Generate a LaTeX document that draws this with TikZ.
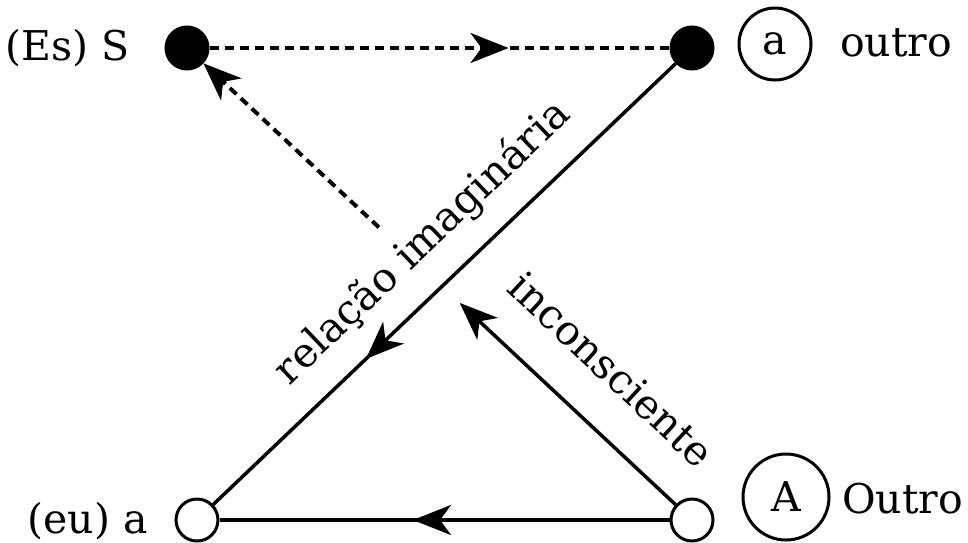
\documentclass[tikz,border=0pt]{standalone}
\usepackage{fontspec}
\setmainfont{DejaVu Serif}
\usetikzlibrary{positioning,arrows.meta,decorations.markings,calc}

\tikzset{
  dot/.style={circle, draw, line width=3pt, minimum size=42pt, inner sep=0pt},
  fulldot/.style={dot, fill=black},
  opendot/.style={dot, fill=white},
  ring/.style={circle, draw, line width=3pt, inner sep=0pt, font=\fontsize{41}{45}\selectfont},
  lbl/.style={inner sep=0pt, font=\fontsize{41}{45}\selectfont},
  link/.style={line width=3.5pt},
  dashlink/.style={line width=4pt, dash pattern=on 9pt off 6pt},
  tip/.style={-{Stealth[length=38pt,width=30pt,inset=11pt]}},
  midtip/.style={postaction={decorate}, decoration={markings,
      mark=at position #1 with {\arrow{Stealth[length=38pt,width=30pt,inset=11pt]}}}},
}

\begin{document}
\begin{tikzpicture}[x=1pt, y=-1pt]
    \useasboundingbox (0,0) rectangle (968,542);

    \node [fulldot] (S) at (187,48) {};
    \node [fulldot] (a) at (692,48) {};
    \node [opendot] (eu) at (197,520) {};
    \node [opendot] (A) at (692,520) {};

    \node [lbl, anchor=base east] (Slbl) at (130,60) {(Es) S};
    \node [lbl, anchor=base east] (eulbl) at (148,533) {(eu) a};
    \node [ring, minimum size=72pt] (aring) at (775,44) {a};
    \node [lbl, anchor=base west] (outro) at (840,56) {outro};
    \node [ring, minimum size=86pt] (Aring) at (786,497) {A};
    \node [lbl, anchor=base west] (Outro) at (842,513) {Outro};

    \draw [dashlink, midtip=0.65] (S) -- (a);
    \draw [link, midtip=0.67] (a) -- node [lbl, pos=0.48, sloped, above=22pt] {relação imaginária} (eu);
    \draw [link, midtip=0.57] (A) -- (eu);
    \draw [link, tip] (A) -- node [lbl, pos=0.47, sloped, above=38pt] {inconsciente} ($(A)!0.46!(S)$);
    \draw [dashlink, tip] ($(A)!0.62!(S)$) -- (S);
\end{tikzpicture}
\end{document}
